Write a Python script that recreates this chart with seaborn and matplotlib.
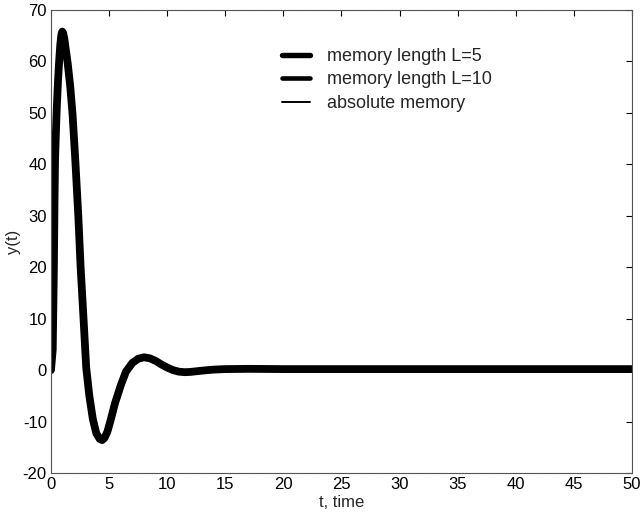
import matplotlib
matplotlib.use("Agg")
import matplotlib.pyplot as plt
import seaborn as sns
import pandas as pd

# time samples
t = [0.0, 0.15, 0.25, 0.3, 0.35, 0.45, 0.5, 0.6, 0.7, 0.8, 0.9, 0.97, 1.05, 1.15,
     1.25, 1.43, 1.65, 1.86, 2.1, 2.35, 2.55, 2.8, 3.03, 3.3, 3.6, 3.9, 4.2, 4.4,
     4.6, 4.85, 5.1, 5.5, 6.0, 6.45, 7.0, 7.5, 8.0, 8.5, 9.0, 9.5, 10.0, 10.5,
     11.0, 11.5, 12.0, 13.0, 14.0, 15.0, 17.0, 20.0, 25.0, 30.0, 35.0, 40.0,
     45.0, 50.0]

# responses (the three curves coincide at this scale)
y_L5 = [0.0, 4.0, 20.0, 32.0, 41.0, 48.0, 51.0, 56.0, 60.0, 63.3, 65.3, 65.8,
        65.5, 64.4, 62.7, 59.8, 55.3, 49.6, 40.5, 30.0, 20.0, 10.0, 0.5, -5.0,
        -9.5, -12.3, -13.4, -13.6, -13.2, -12.0, -10.0, -6.5, -3.0, -0.3, 1.4,
        2.2, 2.5, 2.3, 1.8, 1.1, 0.5, 0.0, -0.3, -0.4, -0.35, -0.1, 0.1, 0.2,
        0.25, 0.2, 0.2, 0.2, 0.2, 0.2, 0.2, 0.2]
y_L10 = list(y_L5)
y_abs = list(y_L5)

labels = ["memory length L=5", "memory length L=10", "absolute memory"]
xticks = [0, 5, 10, 15, 20, 25, 30, 35, 40, 45, 50]
yticks = [-20, -10, 0, 10, 20, 30, 40, 50, 60, 70]

sns.set_style("white")
plt.rcParams["font.family"] = ["Liberation Sans", "DejaVu Sans"]
plt.rcParams["axes.unicode_minus"] = False

fig = plt.figure(figsize=(6.43, 5.16), dpi=100)
ax = fig.add_axes([0.0793, 0.0833, 0.9036, 0.8973])

df = pd.DataFrame({"t": t, "L5": y_L5, "L10": y_L10, "abs": y_abs})
widths = [5.6, 3.2, 1.0]
for col, lab, lw in zip(["L5", "L10", "abs"], labels, widths):
    sns.lineplot(data=df, x="t", y=col, ax=ax, color="black", linewidth=lw,
                 label=lab, estimator=None, sort=False)

ax.set_xlim(0, 50)
ax.set_ylim(-20, 70)
ax.set_xticks(xticks)
ax.set_yticks(yticks)
ax.tick_params(direction="in", length=4, width=0.8, labelsize=12,
               top=True, right=True, colors="black", pad=3)
for s in ax.spines.values():
    s.set_visible(True)
    s.set_color("#555555")
    s.set_linewidth(0.8)
    s.set_linestyle((0, (1, 0.6)))
ax.set_xlabel("t, time", fontsize=12, labelpad=2)
ax.set_ylabel("y(t)", fontsize=12, labelpad=1)

leg = ax.legend(loc="upper left", bbox_to_anchor=(0.397, 0.918), frameon=False,
                fontsize=13, handlelength=1.55, handletextpad=0.95,
                labelspacing=0.36, borderpad=0, borderaxespad=0)
for line, lw in zip(leg.get_lines(), [3.9, 3.3, 1.4]):
    line.set_linewidth(lw)

fig.savefig("out.png", dpi=100)
